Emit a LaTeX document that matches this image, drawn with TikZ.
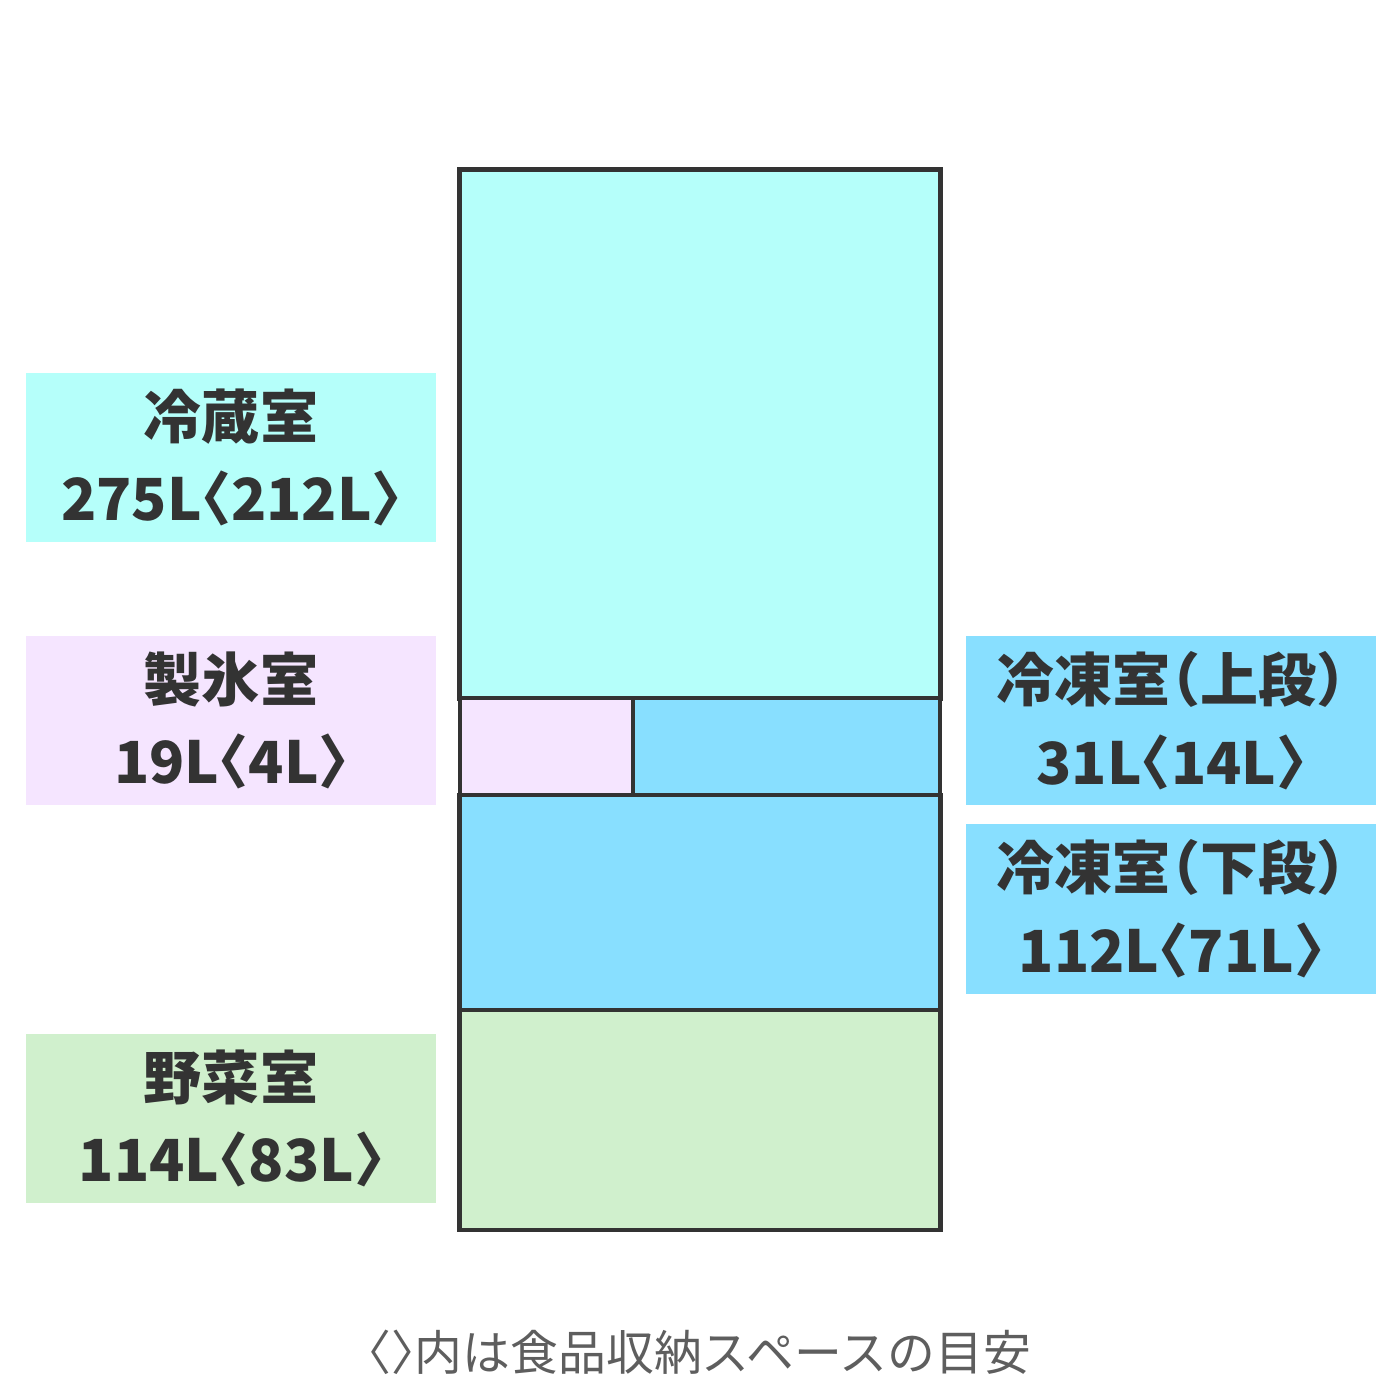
\documentclass[tikz,border=0pt]{standalone}
\usepackage{fontspec}
\newfontfamily\jp{Noto Sans CJK JP}[RawFeature=+halt]
\definecolor{refc}{HTML}{B5FFFA}
\definecolor{icec}{HTML}{F5E5FF}
\definecolor{frzc}{HTML}{88DFFF}
\definecolor{vegc}{HTML}{D0F0CD}
\definecolor{ink}{HTML}{333333}
\definecolor{note}{HTML}{5E5E5E}
\begin{document}
\begin{tikzpicture}[x=0.01cm,y=-0.01cm,
  comp/.style={draw=ink,line width=1.35pt,rectangle,inner sep=0pt},
  lab/.style={rectangle,inner sep=0pt,minimum width=4.1cm,minimum height=1.69cm,
    text=ink,align=center,font=\jp\bfseries\fontsize{16.5}{23.5}\selectfont}]
\useasboundingbox (0,0) rectangle (1400,1400);
% compartments
\node[comp,fill=refc,minimum width=4.8cm,minimum height=5.28cm] (fr) at (700,434) {};
\node[comp,fill=icec,minimum width=1.73cm,minimum height=0.97cm] (ice) at (546.5,746.5) {};
\node[comp,fill=frzc,minimum width=3.07cm,minimum height=0.97cm] (fu) at (786.5,746.5) {};
\node[comp,fill=frzc,minimum width=4.8cm,minimum height=2.15cm] (fl) at (700,902.5) {};
\node[comp,fill=vegc,minimum width=4.8cm,minimum height=2.2cm] (veg) at (700,1120) {};
% labels
\node[lab,fill=refc] (l1) at (231,457.5) {冷蔵室\\275L〈212L〉};
\node[lab,fill=icec] (l2) at (231,720.5) {製氷室\\19L〈4L〉};
\node[lab,fill=vegc] (l3) at (231,1118.5) {野菜室\\114L〈83L〉};
\node[lab,fill=frzc] (r1) at (1171,720.5) {冷凍室（上段）\\31L〈14L〉};
\node[lab,fill=frzc] (r2) at (1171,909) {冷凍室（下段）\\112L〈71L〉};
% note
\node[text=note,font=\jp\fontsize{13.6}{16}\selectfont] (nt) at (699,1352) {〈〉内は食品収納スペースの目安};
\end{tikzpicture}
\end{document}
